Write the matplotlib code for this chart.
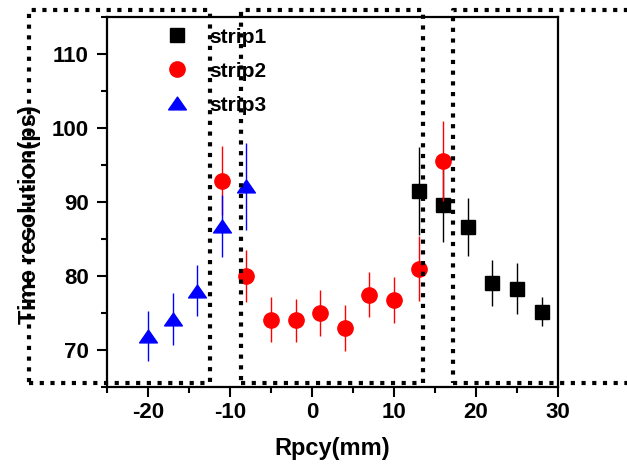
import matplotlib
matplotlib.use("Agg")
import matplotlib.pyplot as plt
from matplotlib.ticker import MultipleLocator
from matplotlib.path import Path

# Measured time resolution versus RPC y position, one series per strip
strip1_x = [13, 16, 19, 22, 25, 28]
strip1_y = [91.5, 89.6, 86.6, 79.0, 78.3, 75.2]
strip1_err = [6.0, 5.0, 3.9, 3.1, 3.5, 2.0]

strip2_x = [-11, -8, -5, -2, 1, 4, 7, 10, 13, 16]
strip2_y = [92.9, 80.0, 74.1, 74.0, 75.0, 73.0, 77.5, 76.8, 81.0, 95.6]
strip2_err = [4.7, 3.5, 3.0, 2.85, 3.1, 3.1, 3.1, 3.1, 4.4, 5.4]

strip3_x = [-20, -17, -14, -11, -8]
strip3_y = [71.9, 74.2, 78.0, 86.8, 92.1]
strip3_err = [3.4, 3.5, 3.45, 4.2, 5.85]

series_labels = ["strip1", "strip2", "strip3"]

# Strip regions outlined by dotted boxes (mm / ps)
region_x = [(-34.5, -12.4), (-8.65, 13.5), (17.2, 40.0)]
region_y = (65.55, 115.95)

plt.rcParams["font.family"] = ["Liberation Sans", "DejaVu Sans"]
plt.rcParams["font.weight"] = "bold"
plt.rcParams["axes.unicode_minus"] = False

fig = plt.figure(figsize=(6.27, 4.66), dpi=100)
ax = fig.add_axes([0.1707, 0.1695, 0.7193, 0.794])

# wide, flat triangle like the Origin "up triangle" symbol
tri = Path([(-1, -0.72), (1, -0.72), (0, 0.72), (-1, -0.72)],
           [Path.MOVETO, Path.LINETO, Path.LINETO, Path.CLOSEPOLY])

common = dict(linestyle="none", elinewidth=1.0, capsize=0)
ax.errorbar(strip1_x, strip1_y, yerr=strip1_err, marker="s", markersize=9.8,
            color="black", ecolor="black", label=series_labels[0], zorder=3, **common)
ax.errorbar(strip2_x, strip2_y, yerr=strip2_err, marker="o", markersize=11,
            color="red", ecolor="red", label=series_labels[1], zorder=4, **common)
ax.errorbar(strip3_x, strip3_y, yerr=strip3_err, marker=tri, markersize=12.8,
            color="blue", ecolor="blue", label=series_labels[2], zorder=5, **common)

ax.set_xlim(-25, 30)
ax.set_ylim(65, 115)
ax.xaxis.set_major_locator(MultipleLocator(10))
ax.xaxis.set_minor_locator(MultipleLocator(5))
ax.yaxis.set_major_locator(MultipleLocator(10))
ax.yaxis.set_minor_locator(MultipleLocator(5))

for s in ax.spines.values():
    s.set_linewidth(1.6)
ax.tick_params(which="major", direction="out", length=7, width=1.5,
               labelsize=16, pad=4, top=False, right=False)
ax.tick_params(which="minor", direction="out", length=4, width=1.5,
               top=False, right=False)
ax.tick_params(axis="y", which="major", pad=6)
for lab in ax.get_xticklabels() + ax.get_yticklabels():
    lab.set_fontweight("bold")

ax.set_xlabel("Rpcy(mm)", fontsize=17, fontweight="bold", labelpad=10)
ax.set_ylabel("Time resolution(ps)", fontsize=17, fontweight="bold")
ax.yaxis.set_label_coords(-0.147, 0.465)

handles, labels = ax.get_legend_handles_labels()
handles = [h[0] for h in handles]
leg = ax.legend(handles, labels, loc="upper left", bbox_to_anchor=(0.132, 0.971),
                frameon=False, handlelength=1.0, handletextpad=1.05,
                labelspacing=0.72, borderaxespad=0, borderpad=0,
                prop={"size": 15, "weight": "bold"})

# dotted region boxes drawn over everything
for x0, x1 in region_x:
    y0, y1 = region_y
    ax.plot([x0, x1, x1, x0, x0], [y0, y0, y1, y1, y0], color="black",
            linewidth=3.0, linestyle=(0, (1, 1.57)), dash_capstyle="butt",
            clip_on=False, zorder=10)

fig.savefig("out.png", dpi=100)
